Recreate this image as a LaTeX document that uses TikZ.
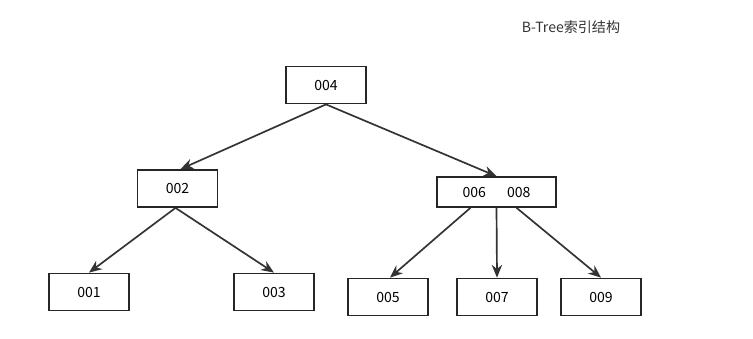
\documentclass[tikz,border=0pt]{standalone}
\usepackage{fontspec}
\setmainfont{Noto Sans CJK SC}
\usetikzlibrary{arrows.meta,calc}
\tikzset{
  keybox/.style={rectangle, draw=black!85, line width=1.1pt, fill=white,
    minimum width=2cm, minimum height=0.93cm, inner sep=0pt, font=\fontsize{10}{12}\selectfont},
  link/.style={-{Stealth[length=3.2mm, width=2.6mm]}, line width=1.2pt, draw=black!80},
}
\begin{document}
\begin{tikzpicture}[x=0.025cm, y=-0.025cm]
  \useasboundingbox (0,0) rectangle (753,338);
  \node[font=\fontsize{10}{12}\selectfont, text=black!80] (title) at (571,27) {B-Tree索引结构};
  % root
  \node[keybox] (k4) at (326,85) {004};
  % inner nodes
  \node[keybox, minimum height=0.93cm] (k2) at (177.5,188.5) {002};
  \node[keybox, minimum width=2.98cm, minimum height=0.75cm] (k68) at (496.5,192) {006\hspace{1.5em}008};
  % leaves
  \node[keybox] (k1) at (89,292) {001};
  \node[keybox] (k3) at (274,292) {003};
  \node[keybox] (k5) at (388,297) {005};
  \node[keybox] (k7) at (497,297) {007};
  \node[keybox] (k9) at (601,297) {009};
  \draw[link] (k4.south) -- ($(k2.north)+(3,0)$);
  \draw[link] (k4.south) -- (k68.north);
  \draw[link] ($(k2.south)+(-2,0)$) -- (k1.north);
  \draw[link] ($(k2.south)+(-2,0)$) -- (k3.north);
  \draw[link] ($(k68.south)+(-26,0)$) -- ($(k5.north)+(2,0)$);
  \draw[link] (k68.south) -- (k7.north);
  \draw[link] ($(k68.south)+(20,0)$) -- (k9.north);
\end{tikzpicture}
\end{document}
